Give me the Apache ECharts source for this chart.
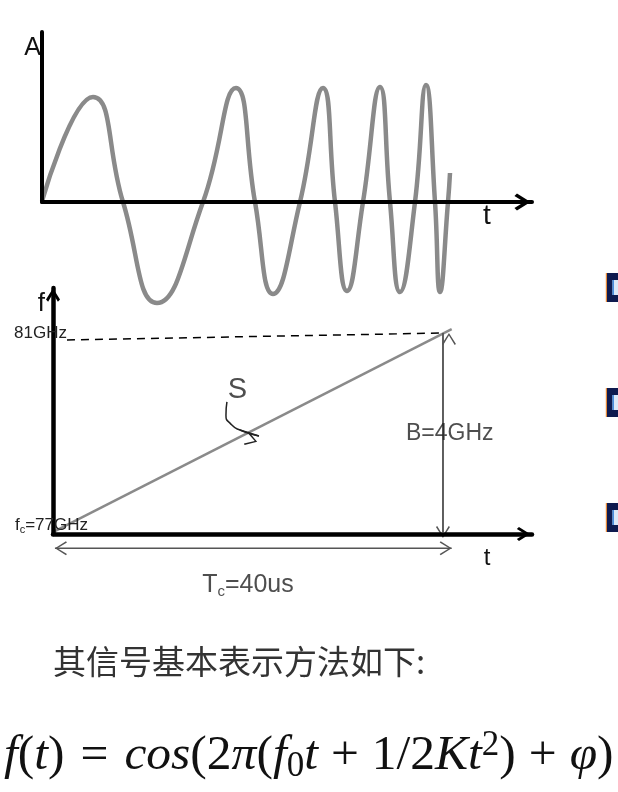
<!DOCTYPE html>
<html><head><meta charset="utf-8">
<script src="https://cdn.jsdelivr.net/npm/echarts@6/dist/echarts.min.js"></script>
<style>html,body{margin:0;padding:0;background:#fff}#c{width:618px;height:792px}</style>
</head><body><div id="c"></div>
<script>
// ---- Upper panel: chirp waveform, key points (t, amplitude) ----
const waveT = [0, 51, 81, 115, 161, 194, 213, 231, 258, 281, 293, 305, 321, 338, 348, 358, 373, 384, 393, 398, 406, 408];
const waveA = [1, 105, 0, -101, 0, 114, 0, -92, 0, 114, 0, -89, 0, 115, 0, -90, 0, 117, 0, -90, 0, 29];

// ---- Lower panel: frequency ramp (t in us, f in GHz) ----
const rampT = [0, 40.9];
const rampF = [77, 81.08];
const dashT = [1.24, 39.9];
const dashF = [80.86, 81.0];
const bwArrowT = [40, 40];
const bwArrowF = [76.98, 81.0];
const tcArrowT = [0, 40.9];
const tcArrowF = [76.65, 76.65];
const sCurveT = [17.73, 17.63, 18.14, 19.07, 21.03];
const sCurveF = [79.61, 79.34, 79.16, 79.04, 78.92];
const fTickValues = [77, 81];
const fTickLabels = ['{a|f}{b|c}{a|=77GHz}', '{g|81GHz}'];
const annoText = ['{s|S}', '{bw|B=4GHz}', '{t|T}{tc|c}{t|=40us}'];
const annoT = [18.8, 40.7, 19.9];
const annoF = [79.85, 78.96, 75.91];

const SANS = "'Liberation Sans', Arial, sans-serif";
const SERIF = "'Liberation Serif', 'Times New Roman', serif";
const axisChev = 'path://M10,0 L20,16 L17,19 L10,7.5 L3,19 L0,16 Z';
const thinChev = 'path://M10,0 L20,16 L18.2,17.4 L10,3.6 L1.8,17.4 L0,16 Z';
const CHEV_SIZE = [14, 12];
const pts = (a, b) => a.map((v, i) => [v, b[i]]);

const formula = '{i|f}{n|(}{i|t}{n|)}{eq|=}{i|cos}{n|(2}{i|π}{n|(}{i|f}{sub|0}{i|t}{op|+}{n|1/2}{i|Kt}{sup|2}{n|)}{op|+}{i|φ}{n|)}';

const chart = echarts.init(document.getElementById('c'), null, {renderer: 'canvas'});
const arrowMark = (t, f, color, syms) => ({
  silent: true,
  symbol: syms,
  symbolSize: CHEV_SIZE,
  symbolOffset: [0, CHEV_SIZE[1] / 2],
  label: {show: false},
  lineStyle: {type: 'solid', color: color, width: 1.5},
  emphasis: {disabled: true},
  data: [[{coord: [t[0], f[0]]}, {coord: [t[1], f[1]]}]]
});

const mathBase = {fontFamily: SERIF, fontSize: 49.5, lineHeight: 56, color: '#111', fontWeight: 'normal'};
const option = {
  animation: false,
  backgroundColor: '#ffffff',
  title: [
    {text: '其信号基本表示方法如下:', left: 53, top: 645, padding: 0,
     textStyle: {fontFamily: "'Noto Sans CJK SC', sans-serif", fontSize: 33, fontWeight: 'normal', color: '#333333'}},
    {text: formula, left: 4, top: 728, padding: 0,
     textStyle: {fontWeight: 'normal', rich: {
       i: Object.assign({}, mathBase, {fontStyle: 'italic'}),
       n: Object.assign({}, mathBase),
       eq: Object.assign({}, mathBase, {padding: [0, 16, 0, 16]}),
       op: Object.assign({}, mathBase, {padding: [0, 13, 0, 13]}),
       sub: Object.assign({}, mathBase, {fontSize: 35, lineHeight: 34, verticalAlign: 'bottom'}),
       sup: Object.assign({}, mathBase, {fontSize: 35, lineHeight: 24, verticalAlign: 'top'})
     }}}
  ],
  grid: [
    {left: 42, top: 32, width: 490, height: 170},
    {left: 53, top: 288, width: 479, height: 246}
  ],
  xAxis: [
    {gridIndex: 0, type: 'value', min: 0, max: 490, z: 5,
     name: 't', nameLocation: 'end', nameGap: -45,
     nameTextStyle: {fontFamily: SANS, fontSize: 28, color: '#111', align: 'center', verticalAlign: 'top', padding: [0, 0, 0, 0]},
     axisLine: {onZero: false, lineStyle: {color: '#000', width: 4}, symbol: ['none', axisChev], symbolSize: [17, 19], symbolOffset: [0, -9.5]},
     axisTick: {show: false}, axisLabel: {show: false}, splitLine: {show: false}},
    {gridIndex: 1, type: 'value', min: -0.2, max: 49.18, z: 5,
     name: 't', nameLocation: 'end', nameGap: -45,
     nameTextStyle: {fontFamily: SANS, fontSize: 24, color: '#111', align: 'center', verticalAlign: 'top', padding: [12, 0, 0, 0]},
     axisLine: {onZero: false, lineStyle: {color: '#000', width: 4.5}, symbol: ['none', axisChev], symbolSize: [14, 17], symbolOffset: [0, -8.5]},
     axisTick: {show: false}, axisLabel: {show: false}, splitLine: {show: false}}
  ],
  yAxis: [
    {gridIndex: 0, type: 'value', min: 0, max: 170, z: 5,
     name: 'A', nameLocation: 'end', nameGap: -4,
     nameTextStyle: {fontFamily: SANS, fontSize: 25, color: '#111', align: 'right', verticalAlign: 'top', padding: [0, 1, 0, 0]},
     axisLine: {onZero: false, lineStyle: {color: '#000', width: 4}},
     axisTick: {show: false}, axisLabel: {show: false}, splitLine: {show: false}},
    {gridIndex: 1, type: 'value', min: 76.94, max: 81.91, z: 5,
     name: 'f', nameLocation: 'end', nameGap: -3,
     nameTextStyle: {fontFamily: SANS, fontSize: 26, color: '#111', align: 'right', verticalAlign: 'top', padding: [0, 8, 0, 0]},
     axisLine: {onZero: false, lineStyle: {color: '#000', width: 4.5}, symbol: ['none', axisChev], symbolSize: [14, 14], symbolOffset: [0, -7]},
     axisTick: {show: false}, splitLine: {show: false},
     axisLabel: {show: true, customValues: fTickValues, margin: -35, align: 'right',
       formatter: (v) => fTickLabels[fTickValues.indexOf(v)] || '',
       rich: {
         a: {fontFamily: SANS, fontSize: 17, lineHeight: 20, color: '#222', padding: [0, 0, 12, 0]},
         b: {fontFamily: SANS, fontSize: 11, lineHeight: 12, color: '#222', padding: [0, 0, 2, 0]},
         g: {fontFamily: SANS, fontSize: 17, lineHeight: 20, color: '#222', padding: [0, 21, 0, 0]}
       }}}
  ],
  series: [
    {name: 'wave', type: 'line', xAxisIndex: 0, yAxisIndex: 0, clip: false, z: 2,
     data: pts(waveT, waveA), smooth: 0.5, showSymbol: false, symbol: 'none',
     lineStyle: {color: '#8a8a8a', width: 4.5}},
    {name: 'ramp', type: 'line', xAxisIndex: 1, yAxisIndex: 1, clip: false, z: 2,
     data: pts(rampT, rampF), showSymbol: false, symbol: 'none',
     lineStyle: {color: '#8a8a8a', width: 2.5}},
    {name: 'level', type: 'line', xAxisIndex: 1, yAxisIndex: 1, clip: false, z: 2,
     data: pts(dashT, dashF), showSymbol: false, symbol: 'none',
     lineStyle: {color: '#000', width: 1.5, type: [8, 6]}},
    {name: 'bw', type: 'line', xAxisIndex: 1, yAxisIndex: 1, clip: false, z: 3,
     data: pts(bwArrowT, bwArrowF), showSymbol: false, symbol: 'none',
     lineStyle: {color: '#555', width: 1.5},
     markLine: arrowMark(bwArrowT, bwArrowF, '#555', [thinChev, thinChev])},
    {name: 'tc', type: 'line', xAxisIndex: 1, yAxisIndex: 1, clip: false, z: 3,
     showSymbol: true, showAllSymbol: true, symbolSize: CHEV_SIZE, silent: true,
     itemStyle: {color: '#555'},
     data: pts(tcArrowT, tcArrowF).map((p, i) => ({
       value: p, symbol: thinChev,
       symbolRotate: i === 0 ? 90 : -90,
       symbolOffset: [i === 0 ? CHEV_SIZE[1] / 2 : -CHEV_SIZE[1] / 2, 0]
     })),
     lineStyle: {color: '#555', width: 1.5}},
    {name: 'sCurve', type: 'line', xAxisIndex: 1, yAxisIndex: 1, clip: false, z: 3,
     data: pts(sCurveT, sCurveF), smooth: 0.6, showSymbol: false, symbol: 'none',
     lineStyle: {color: '#222', width: 1.5},
     markLine: arrowMark(sCurveT.slice(3), sCurveF.slice(3), '#222', ['none', thinChev])},
    {name: 'notes', type: 'scatter', xAxisIndex: 1, yAxisIndex: 1, clip: false, z: 6,
     symbolSize: 1, itemStyle: {color: 'rgba(0,0,0,0)'}, silent: true,
     data: annoText.map((t, i) => ({value: [annoT[i], annoF[i]], name: t})),
     label: {show: true, position: 'inside', formatter: (p) => p.name,
       rich: {
         s: {fontFamily: SANS, fontSize: 29, color: '#222'},
         bw: {fontFamily: SANS, fontSize: 23, color: '#222'},
         t: {fontFamily: SANS, fontSize: 25, lineHeight: 28, color: '#222'},
         tc: {fontFamily: SANS, fontSize: 15, lineHeight: 16, color: '#222', padding: [14, 0, 0, 0]}
       }}}
  ],
  graphic: [0, 115, 230].map((dy) => ({
    type: 'group', silent: true, children: [
      {type: 'rect', shape: {x: 607, y: 273 + dy, width: 11, height: 29}, style: {fill: '#0e1a4f'}},
      {type: 'rect', shape: {x: 612.5, y: 280 + dy, width: 5.5, height: 15}, style: {fill: '#dbe8f8'}},
      {type: 'rect', shape: {x: 612.5, y: 280 + dy, width: 1.5, height: 15}, style: {fill: '#4a8fe0'}},
      {type: 'rect', shape: {x: 605.8, y: 273 + dy, width: 1.2, height: 29}, style: {fill: '#e58a3a'}}
    ]
  }))
};
chart.setOption(option);
</script></body></html>
